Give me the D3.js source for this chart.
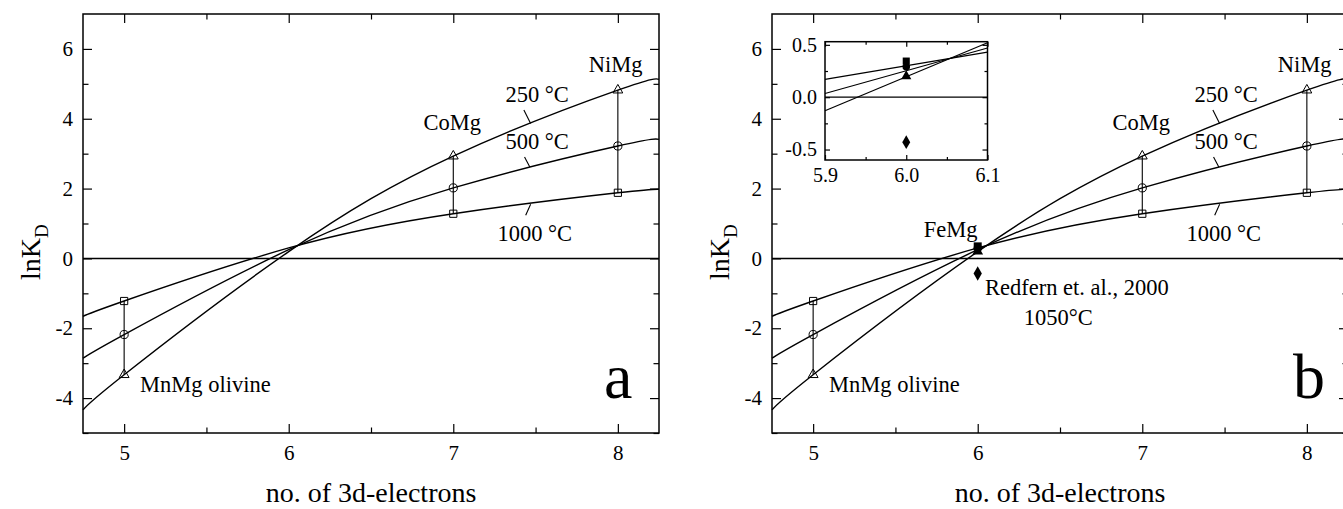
<!DOCTYPE html>
<html>
<head>
<meta charset="utf-8">
<script src="https://cdn.jsdelivr.net/npm/d3@7"></script>
<style>
  body { margin: 0; background: #fff; }
  svg { display: block; font-family: "Liberation Serif", "Times New Roman", serif; }
</style>
</head>
<body>
<script>
// fitted curves
var curveX    = [4.75, 5, 6, 7, 8, 8.25];
var curve250  = [-4.34, -3.33, 0.195, 2.93, 4.82, 5.13];
var curve500  = [-2.86, -2.18, 0.25, 2.02, 3.22, 3.41];
var curve1000 = [-1.66, -1.22, 0.30, 1.28, 1.88, 1.98];

// open symbols: MnMg, CoMg, NiMg
var pointX   = [5, 7, 8];
var tri250   = [-3.33, 2.93, 4.82];
var circ500  = [-2.18, 2.02, 3.22];
var sq1000   = [-1.22, 1.28, 1.88];

// FeMg (filled) and Redfern et al. 2000
var femgX    = 6;
var femgSq   = 0.345;
var femgCirc = 0.29;
var femgTri  = 0.20;
var redfern  = -0.43;

// inset lines
var insetX    = [5.9, 6.1];
var inset250  = [-0.13, 0.52];
var inset500  = [0.035, 0.47];
var inset1000 = [0.17, 0.43];

var xMajor = [5, 6, 7, 8];
var xMinor = [5.5, 6.5, 7.5];
var yMajor = [-4, -2, 0, 2, 4, 6];
var yMinor = [-5, -3, -1, 1, 3, 5];
var insetXMajor = [5.9, 6.0, 6.1];
var insetXMinor = [5.95, 6.05];
var insetYMajor = [-0.5, 0.0, 0.5];
var insetYMinor = [-0.25, 0.25];

var W = 1343, H = 509;
var svg = d3.select("body").append("svg").attr("width", W).attr("height", H);

var pw = 576, ph = 419;
var x = d3.scaleLinear().domain([4.75, 8.25]).range([0, pw]);
var y = d3.scaleLinear().domain([-5, 7]).range([ph, 0]);

var line = d3.line().x(function(d){ return x(d[0]); }).y(function(d){ return y(d[1]); }).curve(d3.curveNatural);

function zip(a, b) { return a.map(function(v, i){ return [v, b[i]]; }); }
function fmtInt(d) { return String(d); }

function frame(g, xs, ys, w, h, major, minor, fontSize, xPad, yPad, xf, yf, xMaj, xMin, yMaj, yMin) {
    // bottom
    g.append("g").attr("transform", "translate(0," + h + ")")
        .call(d3.axisBottom(xs).tickValues(xMaj).tickSize(-major).tickPadding(xPad).tickFormat(xf))
        .call(style, fontSize);
    g.append("g").attr("transform", "translate(0," + h + ")")
        .call(d3.axisBottom(xs).tickValues(xMin).tickSize(-minor).tickFormat(""))
        .call(style, fontSize);
    // top
    g.append("g").call(d3.axisTop(xs).tickValues(xMaj).tickSize(-major).tickFormat("")).call(style, fontSize);
    g.append("g").call(d3.axisTop(xs).tickValues(xMin).tickSize(-minor).tickFormat("")).call(style, fontSize);
    // left
    g.append("g").call(d3.axisLeft(ys).tickValues(yMaj).tickSize(-major).tickPadding(yPad).tickFormat(yf))
        .call(style, fontSize);
    g.append("g").call(d3.axisLeft(ys).tickValues(yMin).tickSize(-minor).tickFormat("")).call(style, fontSize);
    // right
    g.append("g").attr("transform", "translate(" + w + ",0)")
        .call(d3.axisRight(ys).tickValues(yMaj).tickSize(-major).tickFormat("")).call(style, fontSize);
    g.append("g").attr("transform", "translate(" + w + ",0)")
        .call(d3.axisRight(ys).tickValues(yMin).tickSize(-minor).tickFormat("")).call(style, fontSize);
    g.append("rect").attr("width", w).attr("height", h)
        .attr("fill", "none").attr("stroke", "#000").attr("stroke-width", 1.5);
}

function style(sel, fontSize) {
    sel.attr("font-family", null).attr("font-size", null);
    sel.select(".domain").remove();
    sel.selectAll(".tick line").attr("stroke", "#000").attr("stroke-width", 1.2);
    sel.selectAll("text").attr("fill", "#000")
        .style("font-family", '"Liberation Serif", "Times New Roman", serif')
        .style("font-size", fontSize + "px");
}

function drawPanel(left, letter, withFe) {
    var g = svg.append("g").attr("transform", "translate(" + left + ",14)");

    frame(g, x, y, pw, ph, 9, 5.5, 21, 12, 10, fmtInt, fmtInt, xMajor, xMinor, yMajor, yMinor);

    // zero line
    g.append("line").attr("x1", 0).attr("x2", pw).attr("y1", y(0)).attr("y2", y(0))
        .attr("stroke", "#000").attr("stroke-width", 1.5);

    // curves
    [curve250, curve500, curve1000].forEach(function(c) {
        g.append("path").attr("d", line(zip(curveX, c)))
            .attr("fill", "none").attr("stroke", "#000").attr("stroke-width", 1.4);
    });

    // vertical range bars
    g.selectAll(".rng").data(pointX).enter().append("line")
        .attr("x1", function(d){ return x(d); }).attr("x2", function(d){ return x(d); })
        .attr("y1", function(d, i){ return y(tri250[i]); })
        .attr("y2", function(d, i){ return y(sq1000[i]); })
        .attr("stroke", "#000").attr("stroke-width", 1.1);

    var sym = [[tri250, d3.symbolTriangle, 42], [circ500, d3.symbolCircle, 52], [sq1000, d3.symbolSquare, 52]];
    sym.forEach(function(s) {
        g.selectAll(null).data(zip(pointX, s[0])).enter().append("path")
            .attr("d", d3.symbol().type(s[1]).size(s[2]))
            .attr("transform", function(d){ return "translate(" + x(d[0]) + "," + y(d[1]) + ")"; })
            .attr("fill", "none").attr("stroke", "#000").attr("stroke-width", 1);
    });

    // labels
    function txt(xv, yv, t, anchor, size) {
        return g.append("text").attr("x", x(xv)).attr("y", y(yv)).attr("text-anchor", anchor || "start")
            .style("font-size", (size || 22.5) + "px").text(t);
    }
    txt(7.317, 4.49, "250 °C");
    txt(7.317, 3.13, "500 °C");
    txt(7.268, 0.50, "1000 °C");
    txt(6.993, 3.67, "CoMg", "middle");
    txt(7.987, 5.35, "NiMg", "middle");
    txt(5.097, -3.84, "MnMg olivine");

    var leaders = [[7.429, 4.25, 7.47, 3.865], [7.433, 2.907, 7.465, 2.62], [7.47, 1.55, 7.44, 1.234]];
    leaders.forEach(function(l) {
        g.append("line").attr("x1", x(l[0])).attr("y1", y(l[1])).attr("x2", x(l[2])).attr("y2", y(l[3]))
            .attr("stroke", "#000").attr("stroke-width", 1.1);
    });

    g.append("text").attr("x", 521).attr("y", 384).style("font-size", "64px").text(letter);

    // axis titles
    g.append("text").attr("x", pw / 2).attr("y", 488).attr("text-anchor", "middle")
        .style("font-size", "28px").text("no. of 3d-electrons");
    var yt = g.append("text").attr("transform", "translate(-43,266) rotate(-90)")
        .style("font-size", "28px");
    yt.append("tspan").text("lnK");
    yt.append("tspan").attr("dy", 8).style("font-size", "19px").text("D");

    if (withFe) {
        g.append("path").attr("d", d3.symbol().type(d3.symbolTriangle).size(50))
            .attr("transform", "translate(" + x(femgX) + "," + y(femgTri) + ")");
        g.append("path").attr("d", d3.symbol().type(d3.symbolCircle).size(55))
            .attr("transform", "translate(" + x(femgX) + "," + y(femgCirc) + ")");
        g.append("path").attr("d", d3.symbol().type(d3.symbolSquare).size(64))
            .attr("transform", "translate(" + x(femgX) + "," + y(femgSq) + ")");
        g.append("path").attr("d", d3.symbol().type(d3.symbolDiamond).size(60))
            .attr("transform", "translate(" + x(femgX) + "," + y(redfern) + ")");
        txt(5.836, 0.61, "FeMg", "middle");
        txt(6.044, -1.06, "Redfern et. al., 2000");
        txt(6.49, -1.92, "1050°C", "middle");
        drawInset(g);
    }
}

function drawInset(parent) {
    var iw = 162.5, ih = 118.3;
    var ix = d3.scaleLinear().domain([5.9, 6.1]).range([0, iw]);
    var iy = d3.scaleLinear().domain([-0.6, 0.53]).range([ih, 0]);
    var g = parent.append("g").attr("transform", "translate(53,27.7)");
    g.append("rect").attr("width", iw).attr("height", ih).attr("fill", "#fff");

    g.append("line").attr("x1", 0).attr("x2", iw).attr("y1", iy(0)).attr("y2", iy(0))
        .attr("stroke", "#000").attr("stroke-width", 1.2);
    var il = d3.line().x(function(d){ return ix(d[0]); }).y(function(d){ return iy(d[1]); });
    [inset250, inset500, inset1000].forEach(function(c) {
        g.append("path").attr("d", il(zip(insetX, c)))
            .attr("fill", "none").attr("stroke", "#000").attr("stroke-width", 1.2);
    });
    g.append("path").attr("d", d3.symbol().type(d3.symbolTriangle).size(45))
        .attr("transform", "translate(" + ix(femgX) + "," + iy(femgTri) + ")");
    g.append("path").attr("d", d3.symbol().type(d3.symbolCircle).size(45))
        .attr("transform", "translate(" + ix(femgX) + "," + iy(femgCirc) + ")");
    g.append("path").attr("d", d3.symbol().type(d3.symbolSquare).size(50))
        .attr("transform", "translate(" + ix(femgX) + "," + iy(femgSq) + ")");
    g.append("path").attr("d", d3.symbol().type(d3.symbolDiamond).size(55))
        .attr("transform", "translate(" + ix(femgX) + "," + iy(redfern) + ")");

    var f1 = function(d){ return d.toFixed(1); };
    frame(g, ix, iy, iw, ih, 5, 3, 20, 8, 8, f1, f1, insetXMajor, insetXMinor, insetYMajor, insetYMinor);
}

drawPanel(83, "a", false);
drawPanel(772, "b", true);
</script>
</body>
</html>
